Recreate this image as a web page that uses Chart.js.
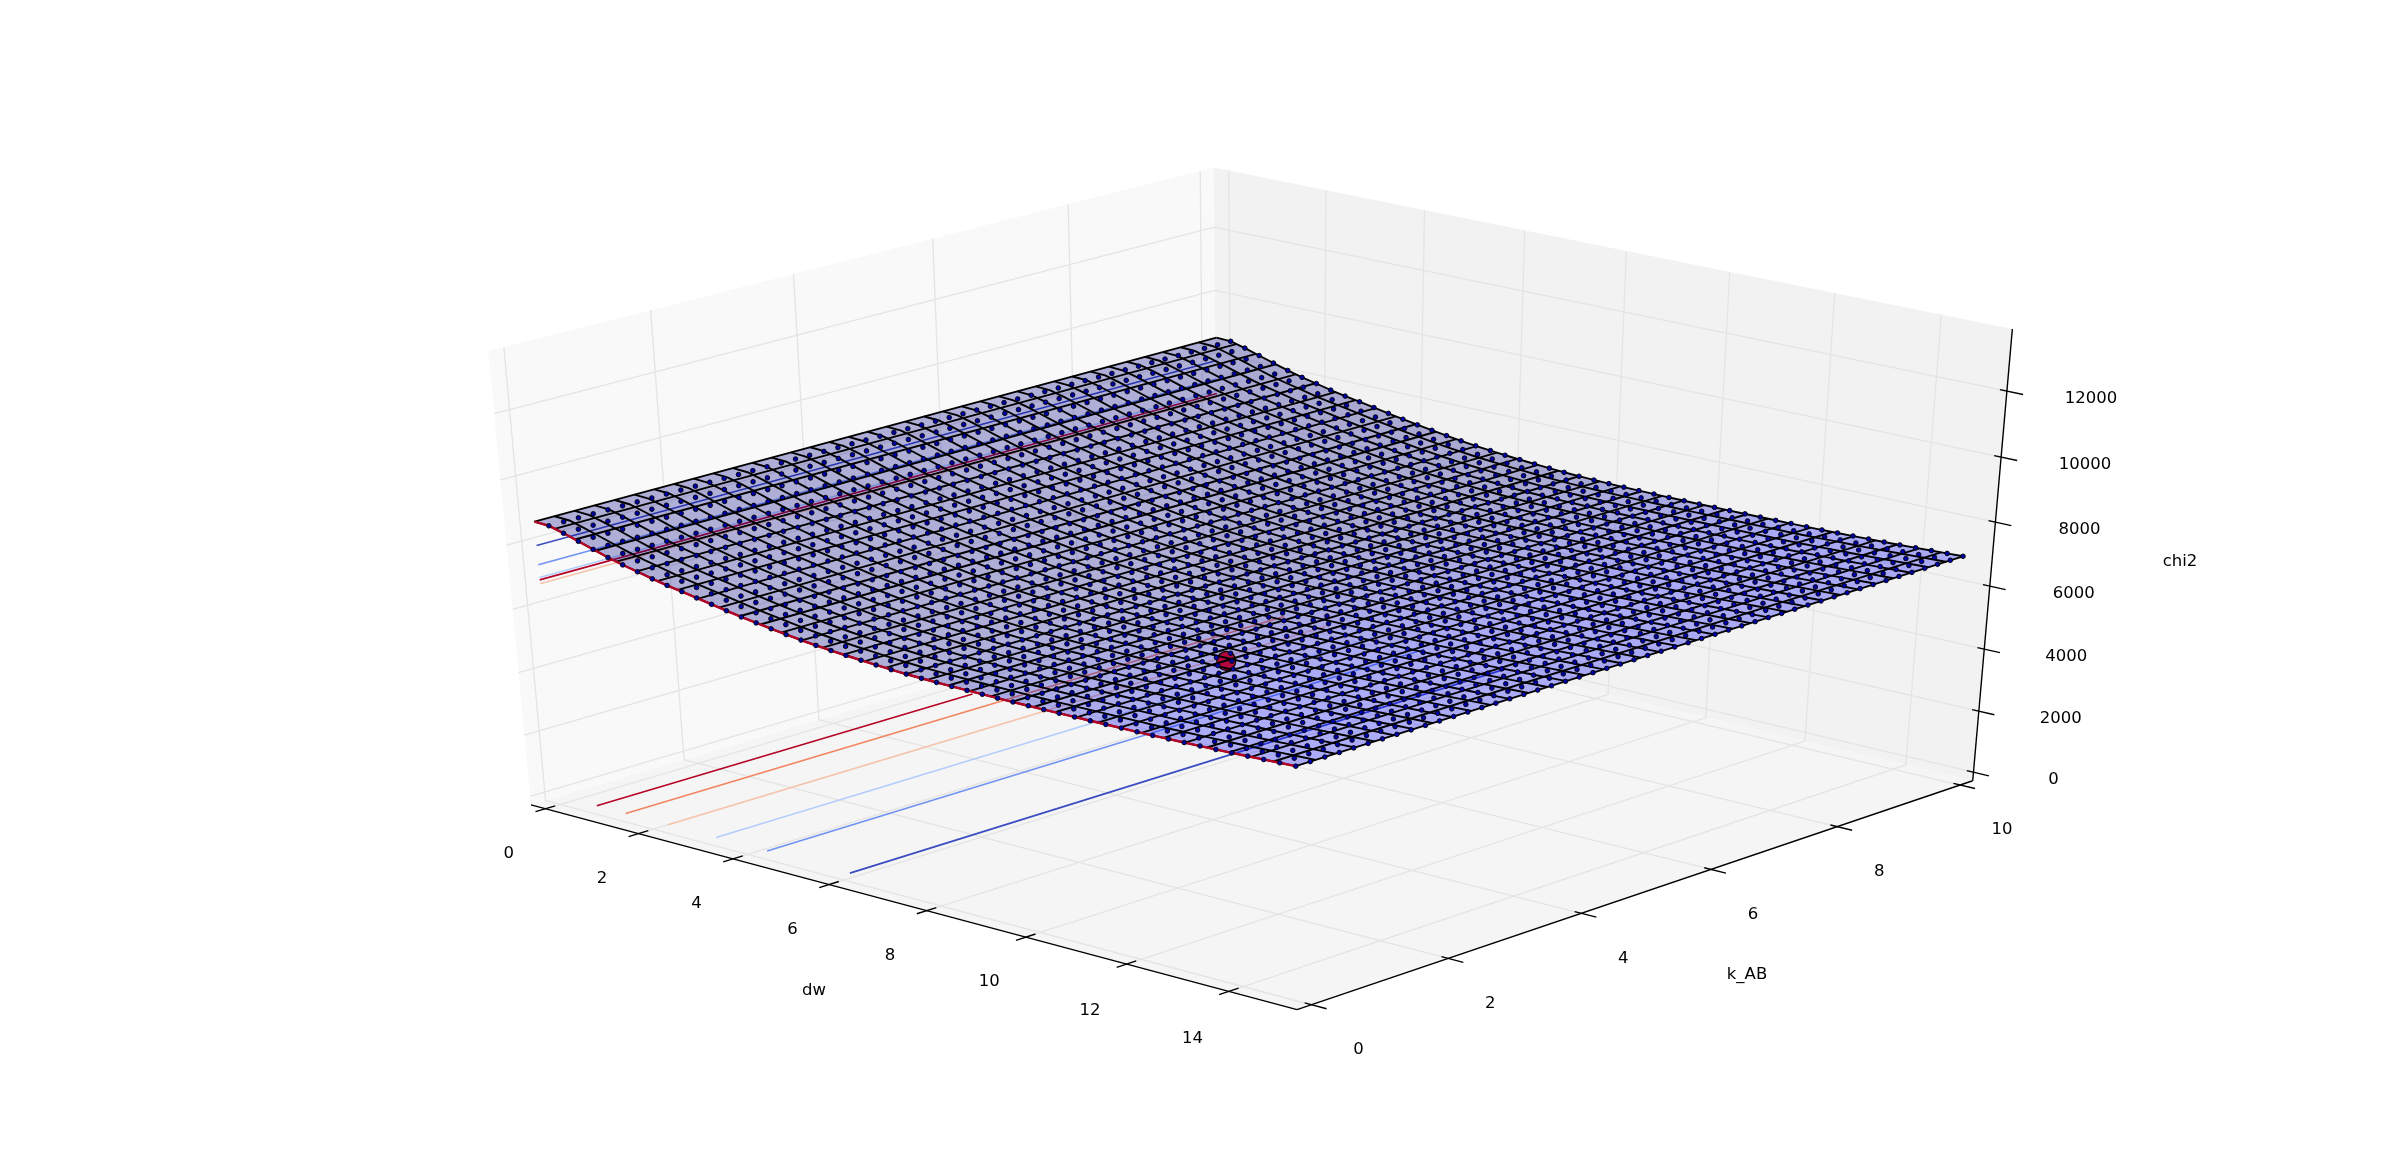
<!DOCTYPE html><html><head><meta charset="utf-8"><style>html,body{margin:0;background:#fff}canvas{display:block}</style>
<script src="https://cdn.jsdelivr.net/npm/chart.js@4"></script></head><body><canvas id="c" width="2400" height="1173"></canvas>
<script>
// Values. chi2 shows no visible change along k_AB, so one height per dw row is read.
const dwTicks=[0,2,4,6,8,10,12,14];
const kTicks=[0,2,4,6,8,10];
const chi2Ticks=[0,2000,4000,6000,8000,10000,12000];
const kGrid=[0,.204,.408,.612,.816,1.02,1.224,1.429,1.633,1.837,2.041,2.245,2.449,2.653,2.857,3.061,3.265,3.469,3.673,3.878,4.082,4.286,4.49,4.694,4.898,5.102,5.306,5.51,5.714,5.918,6.122,6.327,6.531,6.735,6.939,7.143,7.347,7.551,7.755,7.959,8.163,8.367,8.571,8.776,8.98,9.184,9.388,9.592,9.796,10];
const meshDw=[0,.306,.612,.918,1.224,1.531,1.837,2.143,2.449,2.755,3.061,3.367,3.673,3.98,4.286,4.592,4.898,5.204,5.51,5.816,6.122,6.429,6.735,7.041,7.347,7.653,7.959,8.265,8.571,8.878,9.184,9.49,9.796,10.102,10.408,10.714,11.02,11.327,11.633,11.939,12.245,12.551,12.857,13.163,13.469,13.776,14.082,14.388,14.694,15];
const meshChi2=[8710,8688,8565,8422,8279,8138,8018,7915,7805,7715,7632,7546,7459,7374,7295,7224,7154,7092,7037,6987,6946,6910,6877,6846,6820,6802,6790,6781,6775,6771,6769,6768,6768,6770,6772,6776,6781,6786,6792,6797,6803,6816,6828,6841,6855,6871,6891,6911,6932,6951];
const meshBlue=[135,135,135,135,135,135,135,135,135,135,135,135,135,135,135,135,135,135,135,135,135,135,135,142,149,156,163,170,177,184,191,198,205,212,219,226,233,240,247,255,255,255,255,255,255,255,255,255,255];
const wireDw=[0,.417,.833,1.25,1.667,2.083,2.5,2.917,3.333,3.75,4.167,4.583,5,5.417,5.833,6.25,6.667,7.083,7.5,7.917,8.333,8.75,9.167,9.583,10,10.417,10.833,11.25,11.667,12.083,12.5,12.917,13.333,13.75,14.167,14.583,15];
const wireChi2=[8710,8640,8462,8267,8083,7936,7790,7672,7556,7437,7324,7226,7132,7052,6985,6931,6883,6842,6810,6792,6780,6772,6769,6768,6770,6773,6777,6785,6792,6800,6813,6831,6849,6869,6896,6924,6951];
const wireK=[0,.278,.556,.833,1.111,1.389,1.667,1.944,2.222,2.5,2.778,3.056,3.333,3.611,3.889,4.167,4.444,4.722,5,5.278,5.556,5.833,6.111,6.389,6.667,6.944,7.222,7.5,7.778,8.056,8.333,8.611,8.889,9.167,9.444,9.722,10];
const dotDw=[.3,.6,.9,1.2,1.5,1.8,2.1,2.4,2.7,3,3.3,3.6,3.9,4.2,4.5,4.8,5.1,5.4,5.7,6,6.3,6.6,6.9,7.2,7.5,7.8,8.1,8.4,8.7,9,9.3,9.6,9.9,10.2,10.5,10.8,11.1,11.4,11.7,12,12.3,12.6,12.9,13.2,13.5,13.8,14.1,14.4,14.7,15];
const dotChi2=[8690,8570,8430,8290,8150,8030,7930,7820,7730,7650,7565,7480,7395,7315,7245,7175,7110,7055,7005,6960,6925,6890,6860,6830,6810,6795,6785,6778,6773,6770,6768,6768,6769,6771,6773,6777,6782,6787,6793,6798,6805,6818,6830,6843,6856,6872,6892,6912,6932,6951];
const floorDw=[.81,1.43,2.33,3.35,4.42,6.14];
const floorKEnd=[5.55,10,10,10,10,10];
const floorColors=['#b40426','#f2845f','#f6c4ab','#b3cdfb','#6f92f3','#3b4cc0'];
const wallChi2=[7975,7380,6985,6910,6790];
const wallColors=['#3b4cc0','#6f92f3','#b3cdfb','#b40426','#f6c4ab'];
const best={dw:10.43,k:2.42,chi2:6770};
const dwRange=[0,15],kRange=[0,10],chi2Range=[0,13570];
const labelDw='dw',labelK='k_AB',labelChi2='chi2';

// camera fitted to the box corners
const P=[687.7309,768.1836,-69.11786,530.9567,143.7667,-162.3446,-472.7984,804.9265,-0.06037268,0.06754838,-0.05418471];
const pb=(X,Y,Z)=>{const w=P[8]*X+P[9]*Y+P[10]*Z+1;return {x:(P[0]*X+P[1]*Y+P[2]*Z+P[3])/w,y:(P[4]*X+P[5]*Y+P[6]*Z+P[7])/w}};
const nrm=(v,r)=>(v-r[0]+(r[1]-r[0])/48)/((r[1]-r[0])*50/48);
const pd=(d,k,z)=>pb(nrm(d,dwRange),nrm(k,kRange),nrm(z,chi2Range));
const xMin=-15/48,xMax=15+15/48,yMin=-10/48,yMax=10+10/48,zMin=-13570/48,zMax=13570+13570/48;

const ds=[];let layer=0;
const line=(pts,color,w)=>ds.push({data:pts,showLine:true,borderColor:color,borderWidth:w,pointRadius:0,fill:false,order:-(layer++),borderCapStyle:'butt'});
const poly=(pts,color)=>ds.push({data:pts,showLine:true,borderWidth:0,borderColor:'rgba(0,0,0,0)',backgroundColor:color,pointRadius:0,fill:'shape',order:-(layer++)});
// panes
poly([pb(0,0,0),pb(0,1,0),pb(0,1,1),pb(0,0,1)],'#f9f9f9');
poly([pb(0,1,0),pb(1,1,0),pb(1,1,1),pb(0,1,1)],'#f2f2f2');
poly([pb(0,0,0),pb(1,0,0),pb(1,1,0),pb(0,1,0)],'#f5f5f5');
// grid
const GRID='#e4e4e4';
dwTicks.forEach(d=>line([pd(d,yMin,zMin),pd(d,yMax,zMin),pd(d,yMax,zMax)],GRID,1.3));
kTicks.forEach(k=>line([pd(xMax,k,zMin),pd(xMin,k,zMin),pd(xMin,k,zMax)],GRID,1.3));
chi2Ticks.forEach(z=>line([pd(xMin,yMin,z),pd(xMin,yMax,z),pd(xMax,yMax,z)],GRID,1.3));
// axes and ticks
line([pb(0,0,0),pb(1,0,0)],'#000',1.4);
line([pb(1,0,0),pb(1,1,0)],'#000',1.4);
line([pb(1,1,0),pb(1,1,1)],'#000',1.4);
dwTicks.forEach(d=>line([pd(d,yMin-.14,zMin),pd(d,yMin+.14,zMin)],'#000',1.4));
kTicks.forEach(k=>line([pd(xMax-.13,k,zMin),pd(xMax+.29,k,zMin)],'#000',1.4));
chi2Ticks.forEach(z=>line([pd(xMax-.13,yMax,z),pd(xMax+.3,yMax,z)],'#000',1.4));
// contours
floorDw.forEach((d,i)=>line([pd(d,kRange[0],0),pd(d,floorKEnd[i],0)],floorColors[i],1.6));
wallChi2.forEach((z,i)=>line([pd(0,kRange[0],z),pd(0,kRange[1],z)],wallColors[i],1.6));
// surface
for(let i=0;i<meshDw.length-1;i++){
 poly([pd(meshDw[i],kRange[0],meshChi2[i]),pd(meshDw[i+1],kRange[0],meshChi2[i+1]),pd(meshDw[i+1],kRange[1],meshChi2[i+1]),pd(meshDw[i],kRange[1],meshChi2[i])],`rgba(0,0,${meshBlue[i]},0.3)`);
}
// best fit marker
ds.push({data:[pd(best.dw,best.k,best.chi2)],pointRadius:9.5,pointBackgroundColor:'#b2083f',pointBorderColor:'#000',pointBorderWidth:1.2,order:-(layer++)});
// wireframe
wireDw.forEach((d,i)=>line([pd(d,kRange[0],wireChi2[i]),pd(d,kRange[1],wireChi2[i])],'#000',1.9));
wireK.forEach(k=>line(meshDw.map((d,i)=>pd(d,k,meshChi2[i])),'#000',1.9));
// front edge of the surface is drawn red in the source
line(meshDw.map((d,i)=>pd(d,kRange[0],meshChi2[i])),'#b40426',2.4);
// scatter points
const dots=[];dotDw.forEach((d,i)=>kGrid.forEach(k=>dots.push(pd(d,k,dotChi2[i]))));
ds.push({data:dots,pointRadius:2.3,pointBackgroundColor:'#0000a8',pointBorderColor:'#000',pointBorderWidth:.9,order:-(layer++)});

const text={id:'text',afterDatasetsDraw(ch){const c=ch.ctx,sx=ch.scales.x,sy=ch.scales.y;c.save();c.font='16.5px "DejaVu Sans"';c.fillStyle='#000';c.textAlign='center';c.textBaseline='middle';
 const put=(s,p,dx,dy)=>c.fillText(s,sx.getPixelForValue(p.x)+dx,sy.getPixelForValue(p.y)+dy);
 dwTicks.forEach(d=>put(String(d),pd(d,yMin,zMin),-36.5,d>10?47:45));
 kTicks.forEach(k=>put(String(k),pd(xMax,k,zMin),k?42:47,45));
 chi2Ticks.forEach(z=>put(String(z),pd(xMax,yMax,z),z<2000?80:z<6000?82:84,8));
 c.fillText(labelDw,814,991);c.fillText(labelK,1747,975);c.fillText(labelChi2,2180,562);
 c.restore();}};
new Chart(document.getElementById('c'),{type:'scatter',data:{datasets:ds},plugins:[text],options:{responsive:false,animation:false,events:[],layout:{padding:0,autoPadding:false},
 plugins:{legend:{display:false},tooltip:{enabled:false}},
 scales:{x:{type:'linear',min:0,max:2400,display:false},y:{type:'linear',min:0,max:1173,reverse:true,display:false}}}});
</script></body></html>
